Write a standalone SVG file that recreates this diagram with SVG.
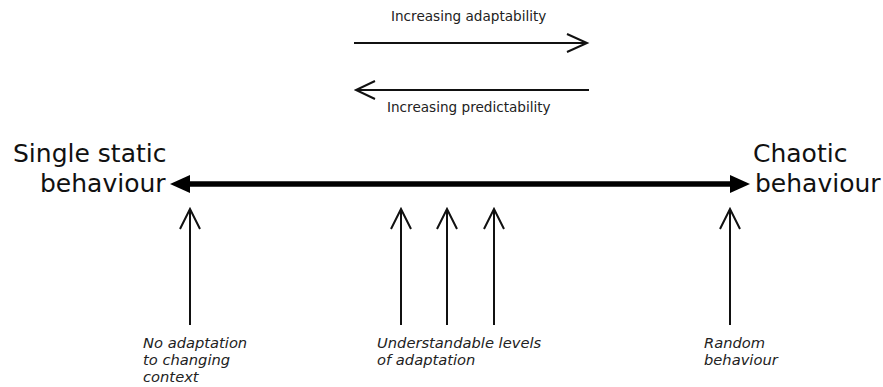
<svg xmlns="http://www.w3.org/2000/svg" width="883" height="387" viewBox="0 0 883 387">
  <defs>
    <style>
      .big { font-family: "DejaVu Sans", sans-serif; font-size: 25px; fill: #111; }
      .small { font-family: "DejaVu Sans", sans-serif; font-size: 13.6px; fill: #222; }
      .note { font-family: "DejaVu Sans", sans-serif; font-size: 14.7px; font-style: italic; fill: #222; }
      .thin { stroke: #111; stroke-width: 2; fill: none; }
      .axis { stroke: #000; stroke-width: 5.5; fill: none; }
      .head { fill: #000; }
    </style>
  </defs>
  <rect width="883" height="387" fill="#fff"/>

  <!-- Trend arrows at the top -->
  <g id="adaptability">
    <text class="small" x="391" y="21">Increasing adaptability</text>
    <path class="thin" d="M354 43 H587 M567 34 L587 43 L567 52"/>
  </g>
  <g id="predictability">
    <path class="thin" d="M589 90 H356 M375 81 L356 90 L375 99"/>
    <text class="small" x="387" y="112">Increasing predictability</text>
  </g>

  <!-- End labels of the scale -->
  <g id="static">
    <text class="big" x="13" y="162">Single static</text>
    <text class="big" x="40" y="192">behaviour</text>
  </g>
  <g id="chaotic">
    <text class="big" x="753" y="162">Chaotic</text>
    <text class="big" x="755" y="192">behaviour</text>
  </g>

  <!-- Pointers to the scale and their notes -->
  <g id="no-adaptation">
    <path class="thin" d="M190 325 V209 M180 229 L190 209 L200 229"/>
    <text class="note" x="143" y="348">No adaptation</text>
    <text class="note" x="143" y="365">to changing</text>
    <text class="note" x="143" y="382">context</text>
  </g>
  <g id="understandable">
    <path class="thin" d="M401 325 V209 M391 229 L401 209 L411 229"/>
    <path class="thin" d="M447 325 V209 M437 229 L447 209 L457 229"/>
    <path class="thin" d="M494 325 V209 M484 229 L494 209 L504 229"/>
    <text class="note" x="377" y="348">Understandable levels</text>
    <text class="note" x="377" y="365">of adaptation</text>
  </g>
  <g id="random">
    <path class="thin" d="M730 325 V209 M720 229 L730 209 L740 229"/>
    <text class="note" x="704" y="348">Random</text>
    <text class="note" x="704" y="365">behaviour</text>
  </g>

  <!-- The scale itself -->
  <g id="connectors">
    <path class="axis" d="M186 184 H734"/>
    <polygon class="head" points="170,184 190,175 190,193"/>
    <polygon class="head" points="750,184 730,175 730,193"/>
  </g>
</svg>
